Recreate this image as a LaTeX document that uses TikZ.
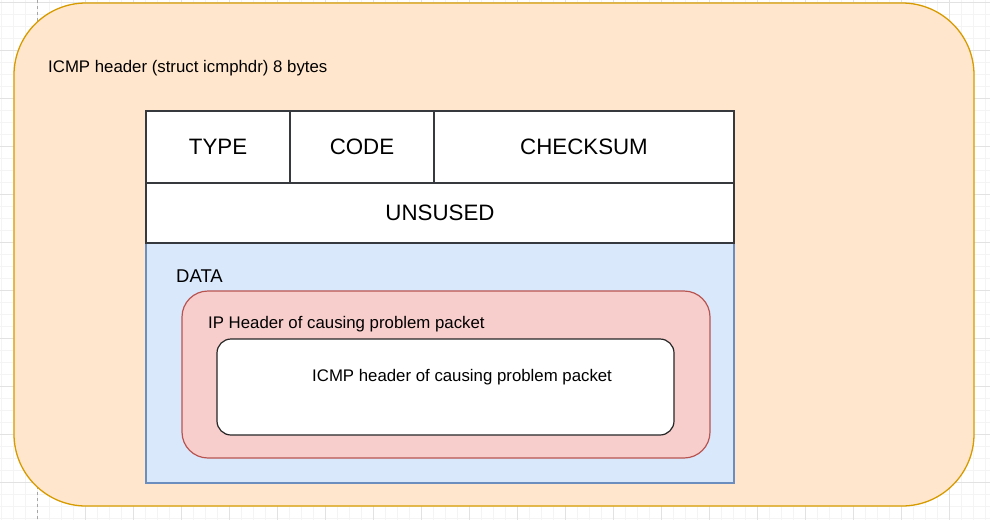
\documentclass[tikz,border=0pt]{standalone}
\usepackage{fontspec}
\setmainfont{Liberation Sans}
\definecolor{orfill}{HTML}{FFE6CC}
\definecolor{orline}{HTML}{D79B00}
\definecolor{blfill}{HTML}{DAE8FC}
\definecolor{blline}{HTML}{6C8EBF}
\definecolor{rdfill}{HTML}{F8CECC}
\definecolor{rdline}{HTML}{B85450}
\definecolor{cellline}{HTML}{36393D}
\definecolor{minorg}{HTML}{F4F4F4}
\definecolor{majorg}{HTML}{E2E2E2}
\begin{document}
\begin{tikzpicture}[x=1pt,y=-1pt,
  minorgrid/.style={draw=minorg,line width=0.8pt},
  majorgrid/.style={draw=majorg,line width=0.8pt},
  shapebox/.style={inner sep=0pt,outer sep=0pt},
  outerbox/.style={shapebox,fill=orfill,draw=orline,line width=1.3pt,rounded corners=72pt},
  cellbox/.style={shapebox,fill=white,draw=cellline,line width=1.2pt,font=\fontsize{22.3}{26}\selectfont},
  databox/.style={shapebox,fill=blfill,draw=blline,line width=1.2pt},
  redbox/.style={shapebox,fill=rdfill,draw=rdline,line width=1.2pt,rounded corners=26pt},
  whitebox/.style={shapebox,fill=white,draw=black!85,line width=1.2pt,rounded corners=14pt},
  lbl/.style={inner sep=0pt,anchor=west,font=\fontsize{16.8}{20}\selectfont}
]
\useasboundingbox (0,0) rectangle (990,520);
\fill[white] (0,0) rectangle (990,520);
% background grid
\foreach \x in {1,13,...,990} \draw[minorgrid] (\x,0) -- (\x,520);
\foreach \y in {2,14,...,520} \draw[minorgrid] (0,\y) -- (990,\y);
\foreach \x in {85,133,...,990} \draw[majorgrid] (\x,0) -- (\x,520);
\foreach \y in {2,50,...,520} \draw[majorgrid] (0,\y) -- (990,\y);
\draw[draw=black!35,dashed,line width=0.8pt] (37,0) -- (37,520);
% outer container
\node[outerbox,minimum width=960pt,minimum height=503pt] (outer) at (494,254.5) {};
\node[lbl] (title) at (48,68) {ICMP header (struct icmphdr) 8 bytes};
% data area
\node[databox,minimum width=588pt,minimum height=240pt] (data) at (440,363) {};
\node[lbl,font=\fontsize{18.5}{22}\selectfont] (datalbl) at (176,276) {DATA};
% header cells
\node[cellbox,minimum width=144pt,minimum height=72pt] (type) at (218,147) {TYPE};
\node[cellbox,minimum width=144pt,minimum height=72pt] (code) at (362,147) {CODE};
\node[cellbox,minimum width=300pt,minimum height=72pt] (checksum) at (584,147) {CHECKSUM};
\node[cellbox,minimum width=588pt,minimum height=60pt] (unused) at (440,213) {UNSUSED};
% nested packet boxes
\node[redbox,minimum width=528pt,minimum height=167pt] (iphdr) at (446,374.5) {};
\node[lbl] (iplbl) at (208,324) {IP Header of causing problem packet};
\node[whitebox,minimum width=457pt,minimum height=96pt] (icmphdr) at (445.5,387) {};
\node[lbl] (icmplbl) at (312,377) {ICMP header of causing problem packet};
\end{tikzpicture}
\end{document}
